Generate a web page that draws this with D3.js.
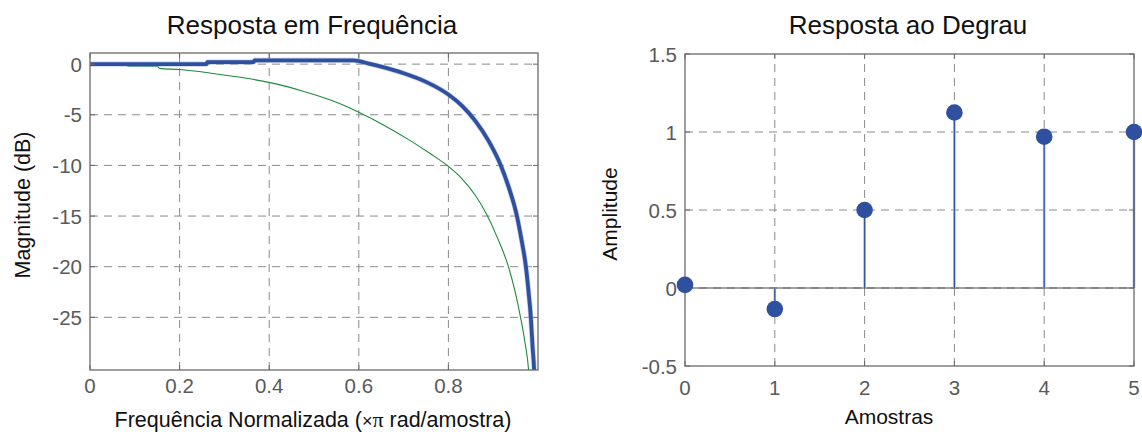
<!DOCTYPE html>
<html><head><meta charset="utf-8">
<script src="https://cdn.jsdelivr.net/npm/d3@7"></script>
<style>
body{margin:0;background:#fff;}
text{font-family:"Liberation Sans",Arial,Helvetica,sans-serif;}
</style></head>
<body>
<svg id="chart" width="1142" height="432"></svg>
<script>
// ---- Data ----
const freqTitle = "Resposta em Frequência";
const stepTitle = "Resposta ao Degrau";
// Frequency response: thick blue curve (freq x pi rad/sample, dB)
const blueFreq = [0,0.26,0.262,0.365,0.367,0.588,0.6,0.62,0.65,0.7,0.75,0.8,0.83,0.86,0.89,0.917,0.935,0.953,0.963,0.973,0.979,0.984,0.988,0.992,0.993];
const blueMag  = [0,0,0.2,0.2,0.37,0.37,0.3,0.08,-0.25,-0.9,-1.75,-3.0,-4.1,-5.6,-7.6,-10.0,-12.2,-15.0,-17.3,-20.0,-22.5,-25.0,-28.0,-31,-35];
// Thin green curve
const greenFreq = [0,0.08,0.085,0.15,0.155,0.2,0.275,0.35,0.42,0.47,0.54,0.6,0.655,0.715,0.76,0.8,0.83,0.86,0.885,0.91,0.934,0.948,0.961,0.971,0.979,0.983];
const greenMag  = [0,0,-0.2,-0.2,-0.42,-0.53,-0.92,-1.4,-2.0,-2.6,-3.6,-4.75,-6.0,-7.55,-8.85,-10.1,-11.3,-12.95,-14.8,-17.2,-20.0,-22.3,-25.0,-27.5,-30.2,-33];
const freqXTicks = [0,0.2,0.4,0.6,0.8];
const freqYTicks = [0,-5,-10,-15,-20,-25];
// Step response
const samples = [0,1,2,3,4,5];
const stepValues = [0.02,-0.135,0.5,1.125,0.97,1.0];
const stepXTicks = [0,1,2,3,4,5];
const stepYTicks = [-0.5,0,0.5,1,1.5];

const svg = d3.select("#chart");
const gridColor = "#8a8a8a", axisColor = "#6a6a6a", tickText = "#5a5a5a";
const blue = "#2f4f9f", green = "#1e8a3c";
const tickFont = 20.5;

function drawFrame(g, x, y, xGrid, yGrid) {
  const [x0,x1] = x.range(), [y0,y1] = y.range();
  g.append("rect").attr("x",x0).attr("y",y1).attr("width",x1-x0).attr("height",y0-y1).attr("fill","#fff");
  g.selectAll(".gx").data(xGrid).join("line")
    .attr("x1",d=>x(d)).attr("x2",d=>x(d)).attr("y1",y0).attr("y2",y1)
    .attr("stroke",gridColor).attr("stroke-width",1).attr("stroke-dasharray","8,6");
  g.selectAll(".gy").data(yGrid).join("line")
    .attr("y1",d=>y(d)).attr("y2",d=>y(d)).attr("x1",x0).attr("x2",x1)
    .attr("stroke",gridColor).attr("stroke-width",1).attr("stroke-dasharray","8,6");
}
function drawAxes(g, x, y, xTicks, yTicks, xFmt, yFmt, xLabelDy) {
  const [x0,x1] = x.range(), [y0,y1] = y.range();
  const tl = 5;
  const ax = g.append("g");
  ax.append("rect").attr("x",x0).attr("y",y1).attr("width",x1-x0).attr("height",y0-y1)
    .attr("fill","none").attr("stroke",axisColor).attr("stroke-width",1.3);
  xTicks.forEach(d=>{
    ax.append("line").attr("x1",x(d)).attr("x2",x(d)).attr("y1",y0).attr("y2",y0-tl).attr("stroke",axisColor);
    ax.append("line").attr("x1",x(d)).attr("x2",x(d)).attr("y1",y1).attr("y2",y1+tl).attr("stroke",axisColor);
    ax.append("text").attr("x",x(d)).attr("y",y0+xLabelDy).attr("text-anchor","middle")
      .attr("font-size",tickFont).attr("fill",tickText).text(xFmt(d));
  });
  yTicks.forEach(d=>{
    ax.append("line").attr("y1",y(d)).attr("y2",y(d)).attr("x1",x0).attr("x2",x0+tl).attr("stroke",axisColor);
    ax.append("line").attr("y1",y(d)).attr("y2",y(d)).attr("x1",x1).attr("x2",x1-tl).attr("stroke",axisColor);
    ax.append("text").attr("x",x0-8).attr("y",y(d)+7.5).attr("text-anchor","end")
      .attr("font-size",tickFont).attr("fill",tickText).text(yFmt(d));
  });
}

// ---- Left: frequency response ----
const xF = d3.scaleLinear().domain([0,1]).range([90,538]);
const yF = d3.scaleLinear().domain([-30.2,1.1]).range([370,53]);
const gF = svg.append("g");
drawFrame(gF, xF, yF, [0.2,0.4,0.6,0.8], freqYTicks);
svg.append("defs").append("clipPath").attr("id","clipF").append("rect")
  .attr("x",90).attr("y",53).attr("width",448).attr("height",317);
const line = d3.line().x(d=>xF(d[0])).y(d=>yF(d[1])).curve(d3.curveMonotoneX);
gF.append("path").datum(greenFreq.map((f,i)=>[f,greenMag[i]]))
  .attr("d",line).attr("fill","none").attr("stroke",green).attr("stroke-width",1.1)
  .attr("clip-path","url(#clipF)");
gF.append("path").datum(blueFreq.map((f,i)=>[f,blueMag[i]]))
  .attr("d",line).attr("fill","none").attr("stroke","#8fa3d6").attr("stroke-width",5.2).attr("stroke-opacity",0.5)
  .attr("clip-path","url(#clipF)");
gF.append("path").datum(blueFreq.map((f,i)=>[f,blueMag[i]]))
  .attr("d",line).attr("fill","none").attr("stroke",blue).attr("stroke-width",3.8)
  .attr("clip-path","url(#clipF)");
drawAxes(gF, xF, yF, freqXTicks, freqYTicks, d=>d===0?"0":d3.format(".1f")(d), d=>String(d), 23);
svg.append("text").attr("x",312).attr("y",34).attr("text-anchor","middle").attr("font-size",26).attr("fill","#111").text(freqTitle);
svg.append("text").attr("transform","translate(30,205) rotate(-90)").attr("text-anchor","middle")
  .attr("font-size",21.5).attr("fill","#111").text("Magnitude (dB)");
const xl = svg.append("text").attr("x",313).attr("y",427).attr("text-anchor","middle").attr("font-size",21.5).attr("fill","#111");
xl.append("tspan").text("Frequência Normalizada (");
xl.append("tspan").attr("font-size",18).text("×");
xl.append("tspan").attr("font-family","'Liberation Serif','Times New Roman',serif").attr("font-size",22).text("π");
xl.append("tspan").text(" rad/amostra)");

// ---- Right: step response ----
const xS = d3.scaleLinear().domain([0,5]).range([685,1134]);
const yS = d3.scaleLinear().domain([-0.5,1.5]).range([366,54]);
const gS = svg.append("g");
drawFrame(gS, xS, yS, [1,2,3,4], [0,0.5,1]);
gS.append("line").attr("x1",xS(0)).attr("x2",xS(5)).attr("y1",yS(0)).attr("y2",yS(0))
  .attr("stroke","#444").attr("stroke-width",1);
const stems = samples.map((n,i)=>({n, v:stepValues[i]}));
gS.selectAll(".stemh").data(stems).join("line")
  .attr("x1",d=>xS(d.n)).attr("x2",d=>xS(d.n)).attr("y1",yS(0)).attr("y2",d=>yS(d.v))
  .attr("stroke","#a8b6dc").attr("stroke-width",2.6);
gS.selectAll(".stem").data(stems).join("line")
  .attr("x1",d=>xS(d.n)).attr("x2",d=>xS(d.n)).attr("y1",yS(0)).attr("y2",d=>yS(d.v))
  .attr("stroke",blue).attr("stroke-width",1.1);
drawAxes(gS, xS, yS, stepXTicks, stepYTicks, d=>String(d), d=>String(d), 29);
gS.selectAll(".dot").data(stems).join("circle")
  .attr("cx",d=>xS(d.n)).attr("cy",d=>yS(d.v)).attr("r",8.3).attr("fill",blue);
svg.append("text").attr("x",908).attr("y",34).attr("text-anchor","middle").attr("font-size",26).attr("fill","#111").text(stepTitle);
svg.append("text").attr("transform","translate(617,214) rotate(-90)").attr("text-anchor","middle")
  .attr("font-size",21).attr("fill","#111").text("Amplitude");
svg.append("text").attr("x",889).attr("y",424).attr("text-anchor","middle").attr("font-size",21).attr("fill","#111").text("Amostras");
</script>
</body></html>
